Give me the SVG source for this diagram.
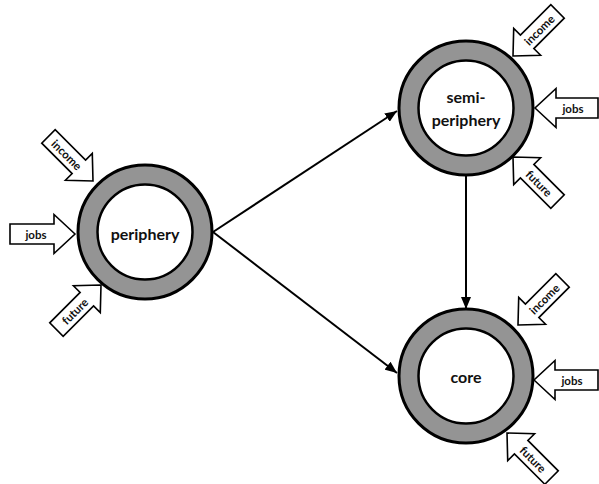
<svg xmlns="http://www.w3.org/2000/svg" xmlns:xlink="http://www.w3.org/1999/xlink" width="599" height="484" viewBox="0 0 599 484">
  <style>
    .ring { fill: #949494; stroke: #000; stroke-width: 3; }
    .hole { fill: #fff; stroke: #000; stroke-width: 2.5; }
    .label { font-family: Lato, "Liberation Sans", sans-serif; font-weight: bold; font-size: 16px; fill: #111; text-anchor: middle; }
    .blk { fill: #fff; stroke: #000; stroke-width: 1.6; stroke-linejoin: miter; }
    .small { font-family: Lato, "Liberation Sans", sans-serif; font-weight: bold; font-size: 11.5px; fill: #111; text-anchor: middle; dominant-baseline: central; }
    .conn { stroke: #000; stroke-width: 2; fill: none; }
  </style>
  <defs>
    <marker id="ah" viewBox="0 0 12 10" refX="12" refY="5" markerWidth="12" markerHeight="10" markerUnits="userSpaceOnUse" orient="auto">
      <path d="M0,0 L12,5 L0,10 Z" fill="#000"/>
    </marker>
    <path id="blkarrow" d="M0,0 L-20,-19 L-20,-9.5 L-63,-9.5 L-63,9.5 L-20,9.5 L-20,19 Z"/>
  </defs>

  <g id="connectors">
    <line class="conn" x1="213" y1="232" x2="397" y2="111" marker-end="url(#ah)"/>
    <line class="conn" x1="213" y1="232" x2="397" y2="373" marker-end="url(#ah)"/>
    <line class="conn" x1="466" y1="176" x2="466" y2="309" marker-end="url(#ah)"/>
  </g>

  <g id="periphery">
    <circle class="ring" cx="145" cy="232" r="67"/>
    <circle class="hole" cx="145" cy="232" r="47.5"/>
    <text class="label" x="145" y="240">periphery</text>
  </g>

  <g id="semi-periphery">
    <circle class="ring" cx="466" cy="108" r="67"/>
    <circle class="hole" cx="466" cy="108" r="47.5"/>
    <text class="label" x="466" y="103">semi-</text>
    <text class="label" x="466" y="126">periphery</text>
  </g>

  <g id="core">
    <circle class="ring" cx="466" cy="376" r="67"/>
    <circle class="hole" cx="466" cy="376" r="47.5"/>
    <text class="label" x="466" y="383">core</text>
  </g>

  <g id="periphery-income" transform="translate(93,181) rotate(45)">
    <use xlink:href="#blkarrow" class="blk"/>
    <text class="small" transform="translate(-37,0)">income</text>
  </g>
  <g id="periphery-jobs" transform="translate(75,234)">
    <path class="blk" d="M0,0 L-21,-19.5 L-21,-10 L-65,-10 L-65,10 L-21,10 L-21,19.5 Z"/>
    <text class="small" transform="translate(-39,0)">jobs</text>
  </g>
  <g id="periphery-future" transform="translate(101,285) rotate(-45)">
    <use xlink:href="#blkarrow" class="blk"/>
    <text class="small" transform="translate(-37,0)">future</text>
  </g>

  <g id="semi-income" transform="translate(513,56) rotate(135)">
    <use xlink:href="#blkarrow" class="blk"/>
    <text class="small" transform="translate(-37,0) rotate(180)">income</text>
  </g>
  <g id="semi-jobs" transform="translate(535,108) rotate(180)">
    <path class="blk" d="M0,0 L-21,-19.5 L-21,-10 L-63,-10 L-63,10 L-21,10 L-21,19.5 Z"/>
    <text class="small" transform="translate(-38,0) rotate(180)">jobs</text>
  </g>
  <g id="semi-future" transform="translate(513,157) rotate(-135)">
    <use xlink:href="#blkarrow" class="blk"/>
    <text class="small" transform="translate(-37,0) rotate(180)">future</text>
  </g>

  <g id="core-income" transform="translate(518,325) rotate(135)">
    <use xlink:href="#blkarrow" class="blk"/>
    <text class="small" transform="translate(-37,0) rotate(180)">income</text>
  </g>
  <g id="core-jobs" transform="translate(534,380) rotate(180)">
    <path class="blk" d="M0,0 L-21,-19.5 L-21,-10 L-64,-10 L-64,10 L-21,10 L-21,19.5 Z"/>
    <text class="small" transform="translate(-38,0) rotate(180)">jobs</text>
  </g>
  <g id="core-future" transform="translate(507,433) rotate(-135)">
    <use xlink:href="#blkarrow" class="blk"/>
    <text class="small" transform="translate(-37,0) rotate(180)">future</text>
  </g>
</svg>
